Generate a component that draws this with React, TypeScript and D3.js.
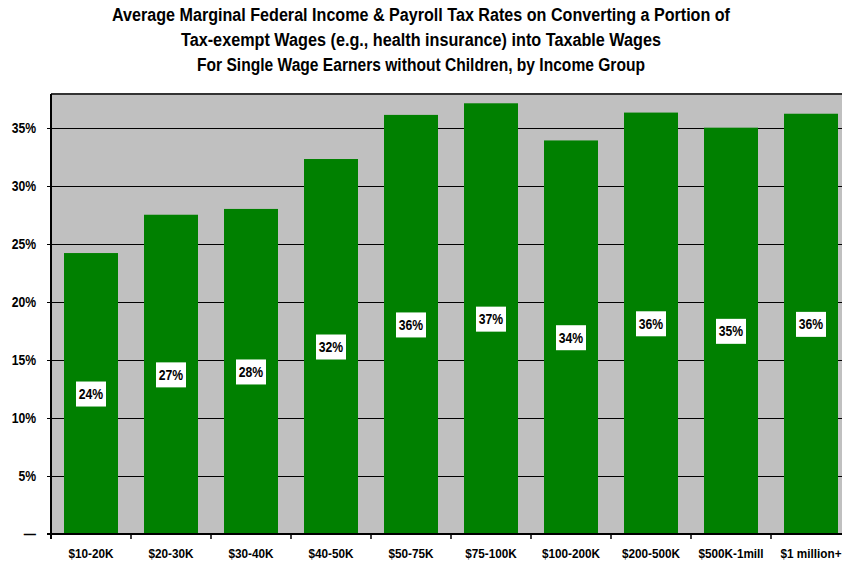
import React, { useRef, useEffect } from "react";
import * as d3 from "d3";

const categories = [
  "$10-20K",
  "$20-30K",
  "$30-40K",
  "$40-50K",
  "$50-75K",
  "$75-100K",
  "$100-200K",
  "$200-500K",
  "$500K-1mill",
  "$1 million+",
];
const rates = [24.2, 27.5, 28.0, 32.3, 36.1, 37.1, 33.9, 36.3, 35.0, 36.2];
const labels = ["24%", "27%", "28%", "32%", "36%", "37%", "34%", "36%", "35%", "36%"];
const yTicks = [0, 5, 10, 15, 20, 25, 30, 35];
const titleLines = [
  "Average Marginal Federal Income & Payroll Tax Rates on Converting a Portion of",
  "Tax-exempt Wages (e.g., health insurance) into Taxable Wages",
  "For Single Wage Earners without Children, by Income Group",
];
const titleWidths = [618, 480, 448];

const App = () => {
  const container = useRef<SVGSVGElement>(null);

  const width = 842;
  const height = 565;
  const left = 51;
  const right = 851;
  const top = 94;
  const bottom = 534;

  useEffect(() => {
    const svg = d3.select(container.current);
    svg.selectAll("*").remove();

    const font = "'Liberation Sans', Arial, sans-serif";
    const squeeze = 0.87; // narrow look of the original labels

    const x = d3
      .scaleBand()
      .domain(categories)
      .range([left, right])
      .paddingInner(0.325)
      .paddingOuter(0.1625);

    const y = d3
      .scaleLinear()
      .domain([0, 37.9])
      .range([bottom, top]);

    // title
    svg
      .append("g")
      .selectAll("text")
      .data(titleLines)
      .enter()
      .append("text")
      .attr("x", 421)
      .attr("y", (d, i) => 21 + i * 25)
      .attr("text-anchor", "middle")
      .attr("textLength", (d, i) => titleWidths[i])
      .attr("lengthAdjust", "spacingAndGlyphs")
      .style("font-family", font)
      .style("font-weight", "bold")
      .style("font-size", "17.5px")
      .style("fill", "#000")
      .text((d) => d);

    // plot background
    svg
      .append("rect")
      .attr("x", left)
      .attr("y", top)
      .attr("width", right - left)
      .attr("height", bottom - top)
      .style("fill", "#C0C0C0");

    svg
      .append("line")
      .attr("x1", left)
      .attr("x2", right)
      .attr("y1", top)
      .attr("y2", top)
      .style("stroke", "#333")
      .style("stroke-width", 2);

    // gridlines
    svg
      .append("g")
      .selectAll("line")
      .data(yTicks.filter((t) => t > 0))
      .enter()
      .append("line")
      .attr("x1", left - 4)
      .attr("x2", right)
      .attr("y1", (d) => Math.round(y(d)) + 0.5)
      .attr("y2", (d) => Math.round(y(d)) + 0.5)
      .style("stroke", "#000")
      .style("stroke-width", 1);

    // bars
    svg
      .append("g")
      .selectAll("rect")
      .data(rates)
      .enter()
      .append("rect")
      .attr("x", (d, i) => x(categories[i]))
      .attr("y", (d) => y(d))
      .attr("width", x.bandwidth())
      .attr("height", (d) => bottom - y(d))
      .style("fill", "#008000");

    // value labels
    const lab = svg
      .append("g")
      .selectAll("g")
      .data(rates)
      .enter()
      .append("g")
      .attr(
        "transform",
        (d, i) => `translate(${x(categories[i]) + x.bandwidth() / 2}, ${(y(d) + bottom) / 2 + 0.5})`
      );
    lab
      .append("rect")
      .attr("x", -15)
      .attr("y", -12.5)
      .attr("width", 30)
      .attr("height", 25)
      .style("fill", "#fff");
    lab
      .append("text")
      .attr("y", 5)
      .attr("transform", `scale(${squeeze},1)`)
      .attr("text-anchor", "middle")
      .style("font-family", font)
      .style("font-weight", "bold")
      .style("font-size", "14px")
      .text((d, i) => labels[i]);

    // axes lines
    svg
      .append("line")
      .attr("x1", left)
      .attr("x2", left)
      .attr("y1", top)
      .attr("y2", bottom + 5)
      .style("stroke", "#000")
      .style("stroke-width", 2);
    svg
      .append("line")
      .attr("x1", left - 4)
      .attr("x2", right)
      .attr("y1", bottom)
      .attr("y2", bottom)
      .style("stroke", "#000")
      .style("stroke-width", 2);

    // y tick labels
    svg
      .append("g")
      .selectAll("text")
      .data(yTicks)
      .enter()
      .append("text")
      .attr("transform", (d) => `translate(36, ${y(d) + 5}) scale(${squeeze},1)`)
      .attr("text-anchor", "end")
      .style("font-family", font)
      .style("font-weight", "bold")
      .style("font-size", "14px")
      .text((d) => (d === 0 ? "\u2014" : d + "%"));

    // x ticks
    const bounds = categories.map((c) => x(c) - x.step() * x.paddingInner() / 2);
    bounds.push(right);
    svg
      .append("g")
      .selectAll("line")
      .data(bounds)
      .enter()
      .append("line")
      .attr("x1", (d) => d)
      .attr("x2", (d) => d)
      .attr("y1", bottom)
      .attr("y2", bottom + 5)
      .style("stroke", "#000")
      .style("stroke-width", 1.5);

    svg
      .append("g")
      .selectAll("text")
      .data(categories)
      .enter()
      .append("text")
      .attr("transform", (d) => `translate(${x(d) + x.bandwidth() / 2}, 558) scale(${squeeze},1)`)
      .attr("text-anchor", "middle")
      .style("font-family", font)
      .style("font-weight", "bold")
      .style("font-size", "13.5px")
      .text((d) => d);
  }, []);

  return (
    <div style={{ position: "absolute", left: 0, top: 0, width: width, height: height }}>
      <svg
        ref={container}
        width={width}
        height={height}
        style={{ display: "block", background: "#fff" }}
      />
    </div>
  );
};

export default App;
